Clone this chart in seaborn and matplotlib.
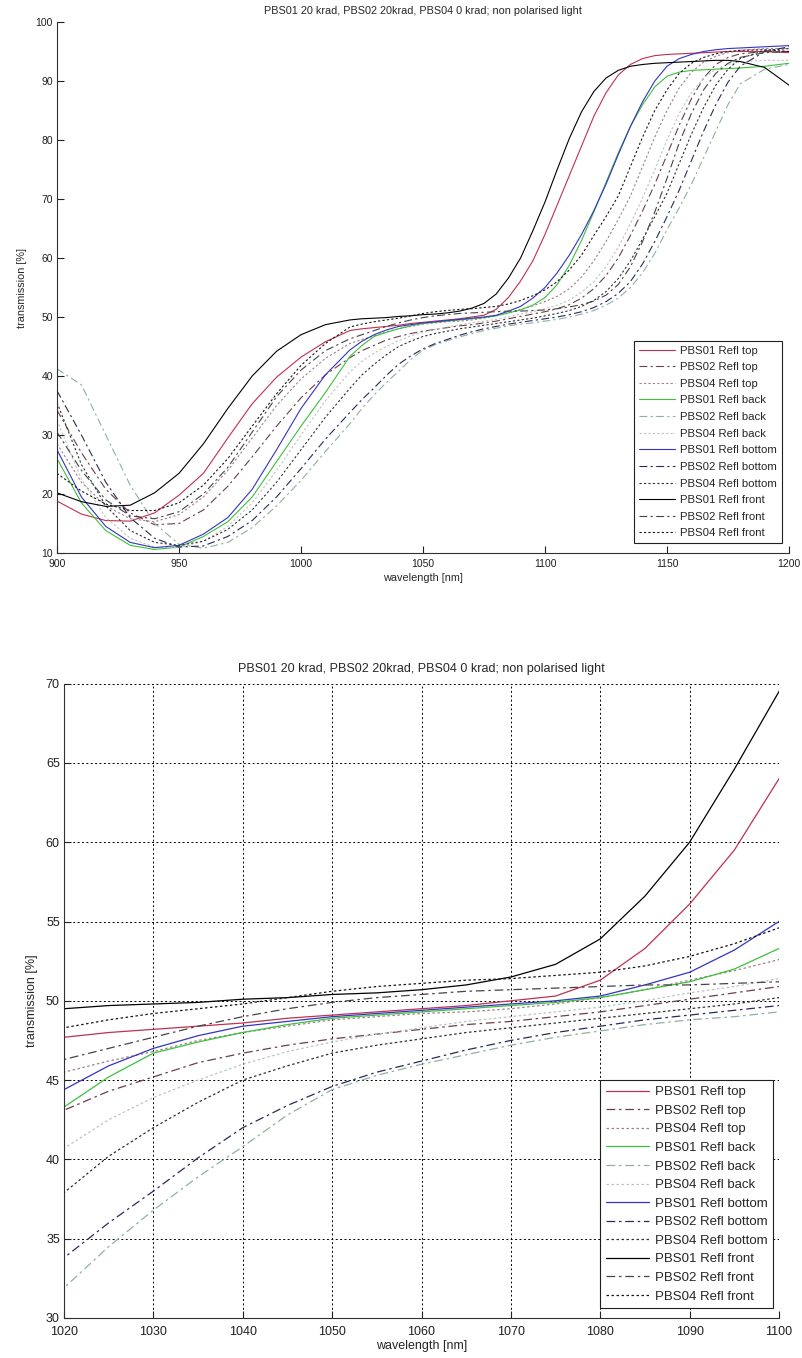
import matplotlib
matplotlib.use("Agg")
import matplotlib.pyplot as plt
import seaborn as sns
import numpy as np
import pandas as pd

sns.set_style("white")
plt.rcParams['font.family'] = ['Liberation Sans', 'DejaVu Sans']

# wavelength grid [nm]
wavelength = [900, 910, 920, 930, 940, 950, 960, 970, 980, 990, 1000, 1010,
              1020, 1025, 1030, 1035, 1040, 1045, 1050, 1055, 1060, 1065, 1070, 1075,
              1080, 1085, 1090, 1095, 1100, 1105, 1110, 1115, 1120, 1125, 1130, 1135,
              1140, 1145, 1150, 1155, 1160, 1165, 1170, 1175, 1180, 1190, 1200]

pbs01_top = [18.8, 16.6, 15.5, 15.4, 16.8, 19.8, 23.5, 29.5, 35.3, 39.8, 43.2, 45.8,
             47.7, 48.0, 48.2, 48.4, 48.6, 48.9, 49.1, 49.3, 49.5, 49.7, 50.0, 50.3,
             51.3, 53.3, 56.1, 59.5, 64.0, 69.0, 74.0, 79.0, 84.0, 88.0, 91.0, 92.8,
             93.8, 94.3, 94.5, 94.6, 94.7, 94.8, 94.9, 95.0, 95.0, 95.0, 94.8]
pbs02_top = [34.2, 27.0, 20.8, 16.8, 14.8, 15.0, 17.3, 21.3, 26.3, 31.5, 36.3, 40.2,
             43.1, 44.3, 45.2, 46.1, 46.7, 47.2, 47.6, 47.9, 48.2, 48.5, 48.7, 49.0,
             49.3, 49.7, 50.1, 50.5, 50.9, 51.4, 52.1, 53.2, 54.8, 57.0, 60.0, 63.8,
             68.0, 72.5, 77.5, 82.5, 87.0, 90.5, 92.8, 94.0, 94.6, 95.0, 95.0]
pbs04_top = [28.5, 22.0, 18.0, 15.8, 15.3, 16.5, 19.5, 24.0, 29.5, 35.0, 39.5, 43.0,
             45.5, 46.2, 46.8, 47.5, 48.0, 48.4, 48.8, 49.0, 49.2, 49.3, 49.5, 49.8,
             50.2, 50.7, 51.3, 51.9, 52.6, 53.5, 54.8, 56.8, 59.5, 62.8, 66.5, 70.5,
             75.5, 80.5, 85.0, 88.8, 91.5, 93.2, 94.2, 94.8, 95.2, 95.5, 95.5]
pbs01_back = [26.0, 18.5, 13.8, 11.3, 10.6, 11.0, 12.8, 15.3, 19.5, 25.5, 31.5, 37.2,
              43.3, 45.2, 46.7, 47.4, 48.0, 48.5, 48.9, 49.1, 49.3, 49.5, 49.7, 49.9,
              50.2, 50.7, 51.2, 52.0, 53.3, 55.5, 58.8, 63.0, 67.8, 72.8, 77.8, 82.3,
              86.0, 89.0, 90.8, 91.5, 91.8, 91.9, 92.0, 92.1, 92.2, 92.5, 93.0]
pbs02_back = [41.2, 38.5, 30.0, 21.5, 15.0, 11.5, 10.8, 11.8, 14.3, 18.0, 22.3, 27.2,
              31.9, 34.5, 36.8, 38.9, 40.8, 42.8, 44.4, 45.3, 46.0, 46.6, 47.2, 47.7,
              48.1, 48.5, 48.8, 49.0, 49.3, 49.6, 50.0, 50.5, 51.1, 52.0, 53.2, 55.0,
              57.5, 60.8, 64.8, 68.5, 72.5, 77.0, 81.5, 86.0, 89.5, 92.0, 92.8]
pbs04_back = [32.5, 22.5, 16.0, 12.5, 11.0, 10.9, 12.0, 14.5, 18.5, 24.0, 30.0, 35.8,
              40.7, 42.5, 43.9, 45.0, 46.0, 46.8, 47.4, 47.9, 48.3, 48.7, 49.0, 49.3,
              49.6, 50.0, 50.5, 50.9, 51.4, 52.0, 52.9, 54.2, 56.0, 58.5, 61.8, 65.8,
              70.2, 75.0, 80.0, 84.5, 88.0, 90.5, 92.0, 92.8, 93.2, 93.5, 93.5]
pbs01_bottom = [27.5, 19.5, 14.5, 11.8, 10.9, 11.3, 13.2, 16.0, 20.8, 27.5, 34.5, 40.2,
                44.4, 45.9, 47.0, 47.8, 48.4, 48.7, 49.0, 49.2, 49.4, 49.6, 49.8, 50.0,
                50.3, 51.0, 51.8, 53.2, 55.0, 57.5, 60.5, 64.0, 68.0, 72.5, 77.5, 82.3,
                86.5, 90.0, 92.5, 93.8, 94.5, 95.0, 95.3, 95.5, 95.6, 95.8, 96.0]
pbs02_bottom = [37.5, 30.0, 22.0, 16.0, 12.5, 11.0, 11.2, 12.8, 15.5, 19.5, 24.3, 29.3,
                33.8, 36.0, 38.0, 40.1, 42.0, 43.4, 44.6, 45.5, 46.2, 46.9, 47.5, 48.0,
                48.4, 48.8, 49.1, 49.4, 49.7, 50.0, 50.4, 50.9, 51.6, 52.6, 54.0, 56.0,
                59.0, 62.8, 67.0, 71.5, 76.5, 81.5, 86.0, 89.8, 92.5, 95.0, 95.8]
pbs04_bottom = [35.5, 25.0, 18.0, 13.8, 11.8, 11.3, 12.0, 14.0, 17.3, 22.0, 27.5, 33.0,
                37.9, 40.2, 42.0, 43.6, 45.0, 45.9, 46.7, 47.2, 47.6, 48.0, 48.3, 48.6,
                48.9, 49.2, 49.5, 49.8, 50.2, 50.6, 51.1, 51.8, 52.8, 54.3, 56.5, 59.5,
                63.2, 67.0, 71.0, 76.0, 81.0, 85.5, 89.3, 92.0, 93.8, 95.2, 95.5]
pbs01_front = [20.2, 18.7, 17.9, 18.1, 20.2, 23.5, 28.5, 34.5, 40.0, 44.2, 47.0, 48.7,
               49.5, 49.7, 49.8, 49.9, 50.1, 50.2, 50.4, 50.5, 50.7, 51.0, 51.5, 52.3,
               53.9, 56.6, 60.0, 64.6, 69.5, 75.0, 80.3, 84.8, 88.2, 90.5, 91.8, 92.5,
               92.8, 93.0, 93.1, 93.2, 93.3, 93.4, 93.5, 93.5, 93.3, 92.3, 89.3]
pbs02_front = [30.5, 24.0, 19.0, 16.3, 15.8, 17.0, 20.0, 24.5, 30.5, 36.5, 41.0, 44.3,
               46.3, 47.0, 47.7, 48.4, 49.0, 49.5, 49.9, 50.2, 50.4, 50.6, 50.7, 50.8,
               50.9, 51.0, 51.0, 51.1, 51.2, 51.4, 51.7, 52.1, 52.7, 53.7, 55.5, 58.5,
               62.8, 67.8, 73.5, 79.5, 84.5, 88.5, 91.3, 93.0, 94.0, 94.8, 95.0]
pbs04_front = [23.5, 20.5, 18.3, 17.2, 17.2, 18.5, 21.5, 26.0, 31.5, 37.0, 41.8, 45.5,
               48.3, 48.8, 49.2, 49.5, 49.8, 50.2, 50.6, 50.9, 51.1, 51.3, 51.4, 51.6,
               51.8, 52.2, 52.8, 53.6, 54.6, 56.0, 58.0, 60.5, 63.8, 67.0, 70.5, 75.5,
               80.5, 85.0, 88.5, 91.3, 93.0, 94.0, 94.6, 95.0, 95.2, 95.3, 95.0]

series_names = ["PBS01 Refl top", "PBS02 Refl top", "PBS04 Refl top",
                "PBS01 Refl back", "PBS02 Refl back", "PBS04 Refl back",
                "PBS01 Refl bottom", "PBS02 Refl bottom", "PBS04 Refl bottom",
                "PBS01 Refl front", "PBS02 Refl front", "PBS04 Refl front"]
series_values = [pbs01_top, pbs02_top, pbs04_top,
                 pbs01_back, pbs02_back, pbs04_back,
                 pbs01_bottom, pbs02_bottom, pbs04_bottom,
                 pbs01_front, pbs02_front, pbs04_front]

title = "PBS01 20 krad, PBS02 20krad, PBS04 0 krad; non polarised light"
top_xticks = [900, 950, 1000, 1050, 1100, 1150, 1200]
top_yticks = [10, 20, 30, 40, 50, 60, 70, 80, 90, 100]
bot_xticks = [1020, 1030, 1040, 1050, 1060, 1070, 1080, 1090, 1100]
bot_yticks = [30, 35, 40, 45, 50, 55, 60, 65, 70]

colors = ['#c0304f', '#6a4048', '#a08088',
          '#3cc03c', '#8fb0a0', '#b9c4be',
          '#3434c0', '#2a2a5a', '#303030',
          '#000000', '#454545', '#151515']
dashdot = (0, (7, 3, 2, 3))
dotted = (0, (2, 2))
styles = ['-', dashdot, dotted] * 4

df = pd.DataFrame({
    'wavelength': np.tile(wavelength, len(series_names)),
    'transmission': np.concatenate(series_values),
    'series': np.repeat(series_names, len(wavelength)),
})

fig = plt.figure(figsize=(8.02, 13.58), dpi=100)
ax1 = fig.add_axes([57 / 802, 1 - 553 / 1358, 732 / 802, 531 / 1358])
ax2 = fig.add_axes([64 / 802, 1 - 1318 / 1358, 715 / 802, 634.4 / 1358])


def draw(ax, fs, lw, xpad):
    for name, col, ls in zip(series_names, colors, styles):
        sub = df[df['series'] == name]
        sns.lineplot(data=sub, x='wavelength', y='transmission', ax=ax,
                     color=col, linestyle=ls, linewidth=lw, label=name,
                     estimator=None, sort=False)
    for s in ['top', 'right']:
        ax.spines[s].set_visible(False)
    for s in ['left', 'bottom']:
        ax.spines[s].set_color('#303030')
        ax.spines[s].set_linewidth(0.8)
    ax.tick_params(direction='in', length=5, width=0.8, labelsize=fs,
                   colors='#202020', top=False, right=False, left=True, bottom=True,
                   pad=3)
    ax.tick_params(axis='x', pad=xpad)


draw(ax1, 7.5, 0.8, 4)
ax1.set_xlim(900, 1200)
ax1.set_ylim(10, 100)
ax1.set_xticks(top_xticks)
ax1.set_yticks(top_yticks)
ax1.set_title(title, fontsize=7.8, pad=6)
ax1.set_xlabel('wavelength [nm]', fontsize=7.8, labelpad=3)
ax1.set_ylabel('transmission [%]', fontsize=7.8, labelpad=6)
leg1 = ax1.legend(loc='lower right', bbox_to_anchor=(0.99, 0.018), borderaxespad=0,
                  fontsize=8.2, frameon=True, fancybox=False, edgecolor='#202020',
                  framealpha=1, handlelength=3.1, handletextpad=0.45,
                  labelspacing=0.58, borderpad=0.45)
leg1.get_frame().set_linewidth(0.8)

draw(ax2, 9, 0.9, 6)
ax2.set_xlim(1020, 1100)
ax2.set_ylim(30, 70)
ax2.set_xticks(bot_xticks)
ax2.set_yticks(bot_yticks)
ax2.grid(True, color='black', linestyle=(0, (2, 2.5)), linewidth=0.7)
ax2.set_axisbelow(True)
ax2.set_title(title, fontsize=9, pad=8)
ax2.set_xlabel('wavelength [nm]', fontsize=9, labelpad=1)
ax2.set_ylabel('transmission [%]', fontsize=9, labelpad=6)
leg2 = ax2.legend(loc='lower right', bbox_to_anchor=(0.992, 0.015), borderaxespad=0,
                  fontsize=9.5, frameon=True, fancybox=False, edgecolor='#202020',
                  framealpha=1, handlelength=3.2, handletextpad=0.45,
                  labelspacing=0.48, borderpad=0.45)
leg2.get_frame().set_linewidth(0.8)

fig.savefig('out.png', dpi=100)
